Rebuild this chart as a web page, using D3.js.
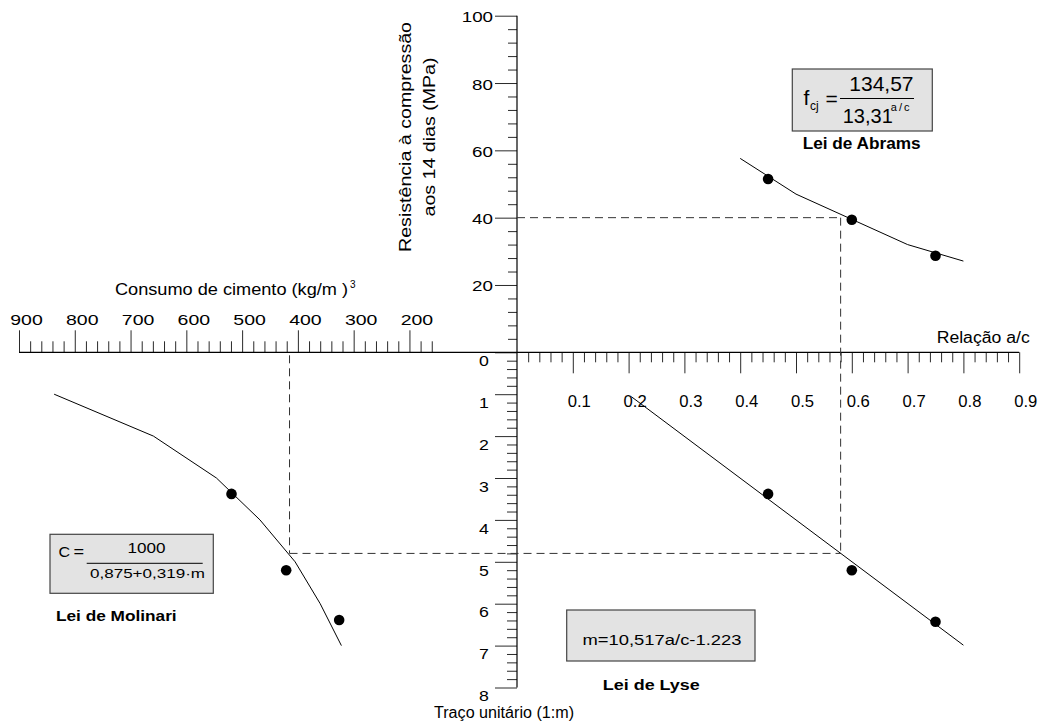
<!DOCTYPE html>
<html><head><meta charset="utf-8">
<script src="https://cdn.jsdelivr.net/npm/d3@7"></script>
<style>
html,body{margin:0;padding:0;background:#fff;}
svg{display:block;}
</style></head><body>
<svg id="chart" width="1042" height="727"></svg>
<script>
// ---------------- data ----------------
const strengthTicks = [20, 40, 60, 80, 100];
const tracoTicks = [0, 1, 2, 3, 4, 5, 6, 7, 8];
const acTicks = [0.1, 0.2, 0.3, 0.4, 0.5, 0.6, 0.7, 0.8, 0.9];
const cementTicks = [900, 800, 700, 600, 500, 400, 300, 200];

const abramsCurveAC = [0.4, 0.5, 0.6, 0.7, 0.8];
const abramsCurveF = [57.6, 47.0, 39.5, 32.0, 27.1];
const abramsPointsAC = [0.45, 0.60, 0.75];
const abramsPointsF = [51.5, 39.4, 28.7];

const lyseLineAC = [0.205, 0.80];
const lyseLineM = [1.06, 6.99];
const lysePointsAC = [0.45, 0.60, 0.75];
const lysePointsM = [3.38, 5.20, 6.43];

const molinariCurveM = [1, 2, 3, 4, 5, 6, 7];
const molinariCurveC = [837, 659, 546, 468, 405, 360, 322];
const molinariPointsM = [3.38, 5.20, 6.39];
const molinariPointsC = [519, 421, 326];

const guideAC = 0.58, guideF = 40, guideM = 4.8, guideC = 415;

// ---------------- drawing ----------------
const FONT = '"Liberation Sans", Arial, Helvetica, sans-serif';
const svg = d3.select("#chart").attr("font-family", FONT);

const xAC = d3.scaleLinear().domain([0, 0.9]).range([517, 1019.2]);
const yF  = d3.scaleLinear().domain([0, 100]).range([352.3, 15.7]);
const yM  = d3.scaleLinear().domain([0, 8]).range([352.3, 687.5]);
const xC  = d3.scaleLinear().domain([0, 900]).range([521, 19]);
const X0 = xAC(0), Y0 = yF(0);

function label(x, y, str, o = {}) {
  const t = svg.append("text")
    .attr("transform", `translate(${x},${y})` + (o.rot ? ` rotate(${o.rot})` : "") + (o.sx ? ` scale(${o.sx},1)` : ""))
    .attr("font-size", o.size || 15)
    .attr("font-weight", o.bold ? "bold" : null)
    .attr("text-anchor", o.anchor || "start")
    .attr("fill", "#000")
    .text(str);
  if (o.len) t.attr("textLength", o.len).attr("lengthAdjust", o.adjust || "spacingAndGlyphs");
  return t;
}

function finishAxis(g, labelTf, size, anchor) {
  g.select(".domain").remove();
  g.attr("font-family", null).attr("font-size", null);
  g.selectAll("line").attr("stroke", "#2a2a2a").attr("stroke-width", 1);
  g.selectAll("text")
    .attr("x", null).attr("y", null).attr("dy", null)
    .attr("fill", "#000").attr("font-size", size)
    .attr("text-anchor", anchor)
    .attr("transform", labelTf);
}
const minorOf = (n, step, every) => d3.range(1, n).filter(i => i % every !== 0).map(i => +(i * step).toFixed(4));

// strength axis (upper vertical)
const gFmin = svg.append("g").attr("transform", `translate(${X0},0)`)
  .call(d3.axisLeft(yF).tickValues(minorOf(25, 4, 5)).tickSize(9).tickSizeOuter(0).tickFormat(""));
finishAxis(gFmin, null, 0, "end");
const gF = svg.append("g").attr("transform", `translate(${X0},0)`)
  .call(d3.axisLeft(yF).tickValues(strengthTicks).tickSize(22).tickSizeOuter(0).tickFormat(d3.format("d")));
finishAxis(gF, "translate(-24,6) scale(1.22,1)", 15.4, "end");

// traço axis (lower vertical)
const gMmin = svg.append("g").attr("transform", `translate(${X0},0)`)
  .call(d3.axisLeft(yM).tickValues(minorOf(40, 0.2, 5)).tickSize(10).tickSizeOuter(0).tickFormat(""));
finishAxis(gMmin, null, 0, "end");
const gM = svg.append("g").attr("transform", `translate(${X0},0)`)
  .call(d3.axisLeft(yM).tickValues(tracoTicks).tickSize(22).tickSizeOuter(0).tickFormat(d3.format("d")));
finishAxis(gM, "translate(-33,13.2) scale(1.15,1)", 15.4, "middle");

// a/c axis (right horizontal)
const gAmin = svg.append("g").attr("transform", `translate(0,${Y0})`)
  .call(d3.axisBottom(xAC).tickValues(minorOf(45, 0.02, 5)).tickSize(10).tickSizeOuter(0).tickFormat(""));
finishAxis(gAmin, null, 0, "middle");
const gA = svg.append("g").attr("transform", `translate(0,${Y0})`)
  .call(d3.axisBottom(xAC).tickValues(acTicks).tickSize(21).tickSizeOuter(0).tickFormat(d3.format(".1f")));
finishAxis(gA, "translate(6,55) scale(1.04,1)", 16, "middle");

// cement axis (left horizontal, ticks upward)
const gCmin = svg.append("g").attr("transform", `translate(0,${Y0})`)
  .call(d3.axisTop(xC).tickValues(d3.range(8, 45).filter(i => i % 5 !== 0).map(i => i * 20)).tickSize(11).tickSizeOuter(0).tickFormat(""));
finishAxis(gCmin, null, 0, "middle");
const gC = svg.append("g").attr("transform", `translate(0,${Y0})`)
  .call(d3.axisTop(xC).tickValues(cementTicks).tickSize(22).tickSizeOuter(0).tickFormat(d3.format("d")));
finishAxis(gC, "translate(7,-27) scale(1.3,1)", 15, "middle");

// main axis lines
svg.append("line").attr("x1", X0).attr("x2", X0).attr("y1", yF(100)).attr("y2", yM(8))
  .attr("stroke", "#000").attr("stroke-width", 1.2);
svg.append("line").attr("x1", xC(900)).attr("x2", xAC(0.9)).attr("y1", Y0).attr("y2", Y0)
  .attr("stroke", "#000").attr("stroke-width", 1.2);

// dashed guide lines
const dashed = svg.append("g").attr("stroke", "#333").attr("stroke-width", 1)
  .attr("stroke-dasharray", "8,5").attr("fill", "none");
dashed.append("line").attr("x1", X0).attr("x2", xAC(guideAC)).attr("y1", yF(guideF)).attr("y2", yF(guideF));
dashed.append("line").attr("x1", xAC(guideAC)).attr("x2", xAC(guideAC)).attr("y1", yF(guideF)).attr("y2", yM(guideM));
dashed.append("line").attr("x1", xC(guideC)).attr("x2", xAC(guideAC)).attr("y1", yM(guideM)).attr("y2", yM(guideM));
dashed.append("line").attr("x1", xC(guideC)).attr("x2", xC(guideC)).attr("y1", Y0 + 3).attr("y2", yM(guideM));

// curves
const curves = svg.append("g").attr("fill", "none").attr("stroke", "#000").attr("stroke-width", 1);
curves.append("path").attr("d", d3.line().x(i => xAC(abramsCurveAC[i])).y(i => yF(abramsCurveF[i]))(d3.range(abramsCurveAC.length)));
curves.append("path").attr("d", d3.line().x(i => xAC(lyseLineAC[i])).y(i => yM(lyseLineM[i]))(d3.range(lyseLineAC.length)));
curves.append("path").attr("d", d3.line().x(i => xC(molinariCurveC[i])).y(i => yM(molinariCurveM[i]))(d3.range(molinariCurveM.length)));

// points
const pts = svg.append("g").attr("fill", "#000");
pts.selectAll(".pa").data(d3.range(abramsPointsAC.length)).join("circle").attr("class", "pa")
  .attr("cx", i => xAC(abramsPointsAC[i])).attr("cy", i => yF(abramsPointsF[i])).attr("r", 5.3);
pts.selectAll(".pl").data(d3.range(lysePointsAC.length)).join("circle").attr("class", "pl")
  .attr("cx", i => xAC(lysePointsAC[i])).attr("cy", i => yM(lysePointsM[i])).attr("r", 5.3);
pts.selectAll(".pm").data(d3.range(molinariPointsC.length)).join("circle").attr("class", "pm")
  .attr("cx", i => xC(molinariPointsC[i])).attr("cy", i => yM(molinariPointsM[i])).attr("r", 5.3);

// axis titles
label(936.7, 343.3, "Relação a/c", { size: 16, len: 93 });
label(115, 295, "Consumo de cimento (kg/m )", { size: 16, len: 233 });
label(350, 288, "3", { size: 10 });
label(410.5, 137, "Resistência à compressão", { size: 16, rot: -90, anchor: "middle", len: 230 });
label(435, 137, "aos 14 dias (MPa)", { size: 16, rot: -90, anchor: "middle", len: 159 });
label(434, 718, "Traço unitário (1:m)", { size: 16, len: 140 });

// equation boxes
function box(x, y, w, h) {
  svg.append("rect").attr("x", x).attr("y", y).attr("width", w).attr("height", h)
    .attr("fill", "#e3e3e3").attr("stroke", "#444").attr("stroke-width", 1.2);
}
// Abrams
box(792.3, 69, 140, 62);
label(803.5, 105, "f", { size: 21 });
label(810, 110, "cj", { size: 12 });
label(825.5, 106, "=", { size: 21 });
svg.append("line").attr("x1", 840).attr("x2", 914).attr("y1", 98.5).attr("y2", 98.5).attr("stroke", "#000").attr("stroke-width", 1);
label(881.4, 90.7, "134,57", { size: 21, anchor: "middle" });
const den = label(842.7, 123.3, "13,31", { size: 20 });
den.append("tspan").attr("dx", -2).attr("dy", -12.5).attr("font-size", 11)
  .attr("letter-spacing", 2).text("a/c");
label(861.7, 149, "Lei de Abrams", { size: 16, bold: true, anchor: "middle", len: 118 });

// Molinari
box(50, 534.3, 163.3, 59);
label(58.5, 556.7, "C", { size: 14, sx: 1.15 });
label(73.5, 557, "=", { size: 14, sx: 1.3 });
svg.append("line").attr("x1", 86.7).attr("x2", 202.7).attr("y1", 563.3).attr("y2", 563.3).attr("stroke", "#000").attr("stroke-width", 1);
label(146.5, 553.3, "1000", { size: 14, anchor: "middle", len: 38 });
label(147.5, 578.3, "0,875+0,319·m", { size: 13.5, anchor: "middle", len: 115 });
label(116.3, 620.7, "Lei de Molinari", { size: 15, bold: true, anchor: "middle", len: 120.7 });

// Lyse
box(566.7, 610, 188.3, 51);
label(662, 645, "m=10,517a/c-1.223", { size: 15, anchor: "middle", len: 159 });
label(651.3, 690, "Lei de Lyse", { size: 15, bold: true, anchor: "middle", len: 97 });
</script>
</body></html>
